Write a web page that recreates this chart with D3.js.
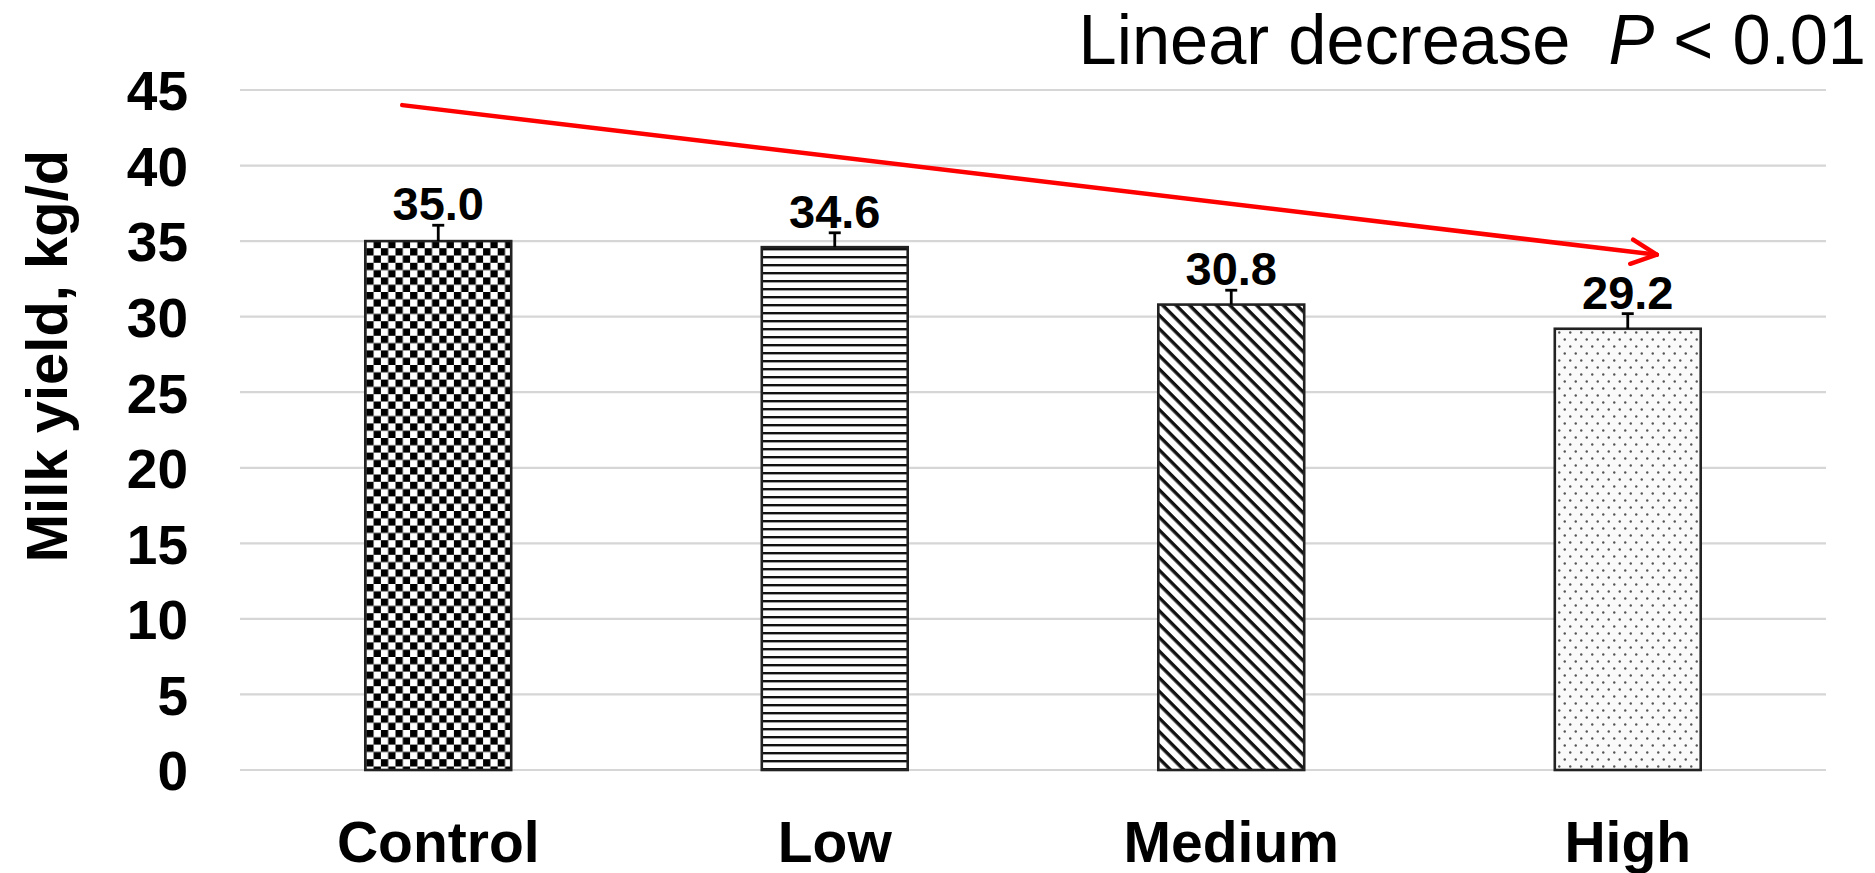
<!DOCTYPE html>
<html>
<head>
<meta charset="utf-8">
<script src="https://cdn.jsdelivr.net/npm/d3@7/dist/d3.min.js"></script>
<style>
  html, body { margin: 0; padding: 0; background: #fff; }
  svg { display: block; font-family: "Liberation Sans", Arial, sans-serif; }
</style>
</head>
<body>
<svg id="chart" width="1875" height="873"></svg>
<script>
// ---- data ----
const categories = ["Control", "Low", "Medium", "High"];
const milkYield = [35.0, 34.6, 30.8, 29.2];
const stdErr = [1.05, 0.95, 0.95, 1.0];
const valueLabels = ["35.0", "34.6", "30.8", "29.2"];
const yTicks = [0, 5, 10, 15, 20, 25, 30, 35, 40, 45];
const patternIds = ["checker", "hlines", "diag", "dots"];
const yTitle = "Milk yield, kg/d";
const annotationText = "Linear decrease";
const annotationP = "P";
const annotationRest = " < 0.01";
// trend arrow endpoints (value space)
const arrowValues = [44.0, 34.1];

// ---- layout ----
const svg = d3.select("#chart");
const x = d3.scaleBand().domain(categories).range([240, 1826]).paddingInner(0.632).paddingOuter(0.316);
const y = d3.scaleLinear().domain([0, 45]).range([770, 90]);

// ---- patterns ----
const defs = svg.append("defs");
const pc = defs.append("pattern").attr("id", "checker").attr("patternUnits", "userSpaceOnUse")
  .attr("width", 14.6).attr("height", 14.6).attr("x", x("Control") + 1);
pc.append("rect").attr("width", 14.6).attr("height", 14.6).attr("fill", "#fff");
pc.append("rect").attr("width", 7.3).attr("height", 7.3).attr("fill", "#000");
pc.append("rect").attr("x", 7.3).attr("y", 7.3).attr("width", 7.3).attr("height", 7.3).attr("fill", "#000");

const ph = defs.append("pattern").attr("id", "hlines").attr("patternUnits", "userSpaceOnUse")
  .attr("width", 8).attr("height", 8);
ph.append("rect").attr("width", 8).attr("height", 8).attr("fill", "#fff");
ph.append("rect").attr("y", 0).attr("width", 8).attr("height", 2.4).attr("fill", "#111");

const pd = defs.append("pattern").attr("id", "diag").attr("patternUnits", "userSpaceOnUse")
  .attr("width", 9.5).attr("height", 9.5).attr("patternTransform", "rotate(45)");
pd.append("rect").attr("width", 9.5).attr("height", 9.5).attr("fill", "#fff");
pd.append("rect").attr("width", 9.5).attr("height", 3.4).attr("fill", "#111");

const pdo = defs.append("pattern").attr("id", "dots").attr("patternUnits", "userSpaceOnUse")
  .attr("width", 11).attr("height", 14);
pdo.append("rect").attr("width", 11).attr("height", 14).attr("fill", "#fafafa");
pdo.append("circle").attr("cx", 2.75).attr("cy", 3.5).attr("r", 1.2).attr("fill", "#555");
pdo.append("circle").attr("cx", 8.25).attr("cy", 10.5).attr("r", 1.2).attr("fill", "#555");

// ---- gridlines ----
svg.append("g").selectAll("line").data(yTicks).join("line")
  .attr("x1", x.range()[0]).attr("x2", x.range()[1])
  .attr("y1", d => y(d)).attr("y2", d => y(d))
  .attr("stroke", "#d6d6d6").attr("stroke-width", 2.2);

// ---- y axis labels ----
const yAxis = d3.axisLeft(y).tickValues(yTicks).tickSize(0).tickPadding(0);
const gy = svg.append("g").attr("transform", "translate(188,0)").call(yAxis);
gy.select(".domain").remove();
gy.selectAll("text").attr("font-size", 55).attr("font-weight", "bold").attr("fill", "#000")
  .attr("font-family", '"Liberation Sans", Arial, sans-serif').attr("dy", "0.36em");

// ---- x axis labels ----
const xAxis = d3.axisBottom(x).tickSize(0).tickPadding(0);
const gx = svg.append("g").attr("transform", "translate(0,862)").call(xAxis);
gx.select(".domain").remove();
gx.selectAll("text").attr("font-size", 57).attr("font-weight", "bold").attr("fill", "#000")
  .attr("font-family", '"Liberation Sans", Arial, sans-serif').attr("dy", 0).attr("y", 0);

// ---- bars ----
const bars = categories.map((c, i) => ({ c, v: milkYield[i], e: stdErr[i], lab: valueLabels[i], p: patternIds[i] }));
svg.append("g").selectAll("rect").data(bars).join("rect")
  .attr("x", d => x(d.c)).attr("width", x.bandwidth())
  .attr("y", d => y(d.v)).attr("height", d => y(0) - y(d.v))
  .attr("fill", d => `url(#${d.p})`)
  .attr("stroke", "#222").attr("stroke-width", 2.6);

// ---- error bars (upper) ----
const eb = svg.append("g").attr("stroke", "#000").attr("stroke-width", 2.8);
eb.selectAll("line.v").data(bars).join("line").attr("class", "v")
  .attr("x1", d => x(d.c) + x.bandwidth() / 2).attr("x2", d => x(d.c) + x.bandwidth() / 2)
  .attr("y1", d => y(d.v)).attr("y2", d => y(d.v + d.e));
eb.selectAll("line.c").data(bars).join("line").attr("class", "c")
  .attr("x1", d => x(d.c) + x.bandwidth() / 2 - 6).attr("x2", d => x(d.c) + x.bandwidth() / 2 + 6)
  .attr("y1", d => y(d.v + d.e)).attr("y2", d => y(d.v + d.e));

// ---- value labels ----
svg.append("g").selectAll("text").data(bars).join("text")
  .attr("x", d => x(d.c) + x.bandwidth() / 2).attr("y", d => y(d.v + d.e) - 5)
  .attr("text-anchor", "middle").attr("font-size", 47).attr("font-weight", "bold")
  .text(d => d.lab);

// ---- y title ----
svg.append("text")
  .attr("transform", "translate(47,356) rotate(-90)")
  .attr("text-anchor", "middle").attr("dy", "0.35em")
  .attr("font-size", 58).attr("font-weight", "bold").text(yTitle);

// ---- annotation ----
const ann = svg.append("text").attr("transform", "translate(1866,64) scale(0.98,1)")
  .attr("text-anchor", "end").attr("font-size", 70).attr("fill", "#000");
ann.append("tspan").text(annotationText + "\u00A0\u00A0");
ann.append("tspan").attr("font-style", "italic").text(annotationP);
ann.append("tspan").text(annotationRest);

// ---- trend arrow ----
const ax1 = x("Control") + x.bandwidth() / 2 - 36, ay1 = y(arrowValues[0]);
const ax2 = x("High") + x.bandwidth() / 2 + 29, ay2 = y(arrowValues[1]);
const ag = svg.append("g").attr("stroke", "#ff0000").attr("stroke-width", 4.5).attr("stroke-linecap", "round").attr("fill", "none");
ag.append("line").attr("x1", ax1).attr("y1", ay1).attr("x2", ax2).attr("y2", ay2);
const ang = Math.atan2(ay2 - ay1, ax2 - ax1);
const headLen = 28, spread = Math.PI / 7;
[ang + Math.PI - spread, ang + Math.PI + spread].forEach(a => {
  ag.append("line").attr("x1", ax2).attr("y1", ay2)
    .attr("x2", ax2 + headLen * Math.cos(a)).attr("y2", ay2 + headLen * Math.sin(a));
});
</script>
</body>
</html>
